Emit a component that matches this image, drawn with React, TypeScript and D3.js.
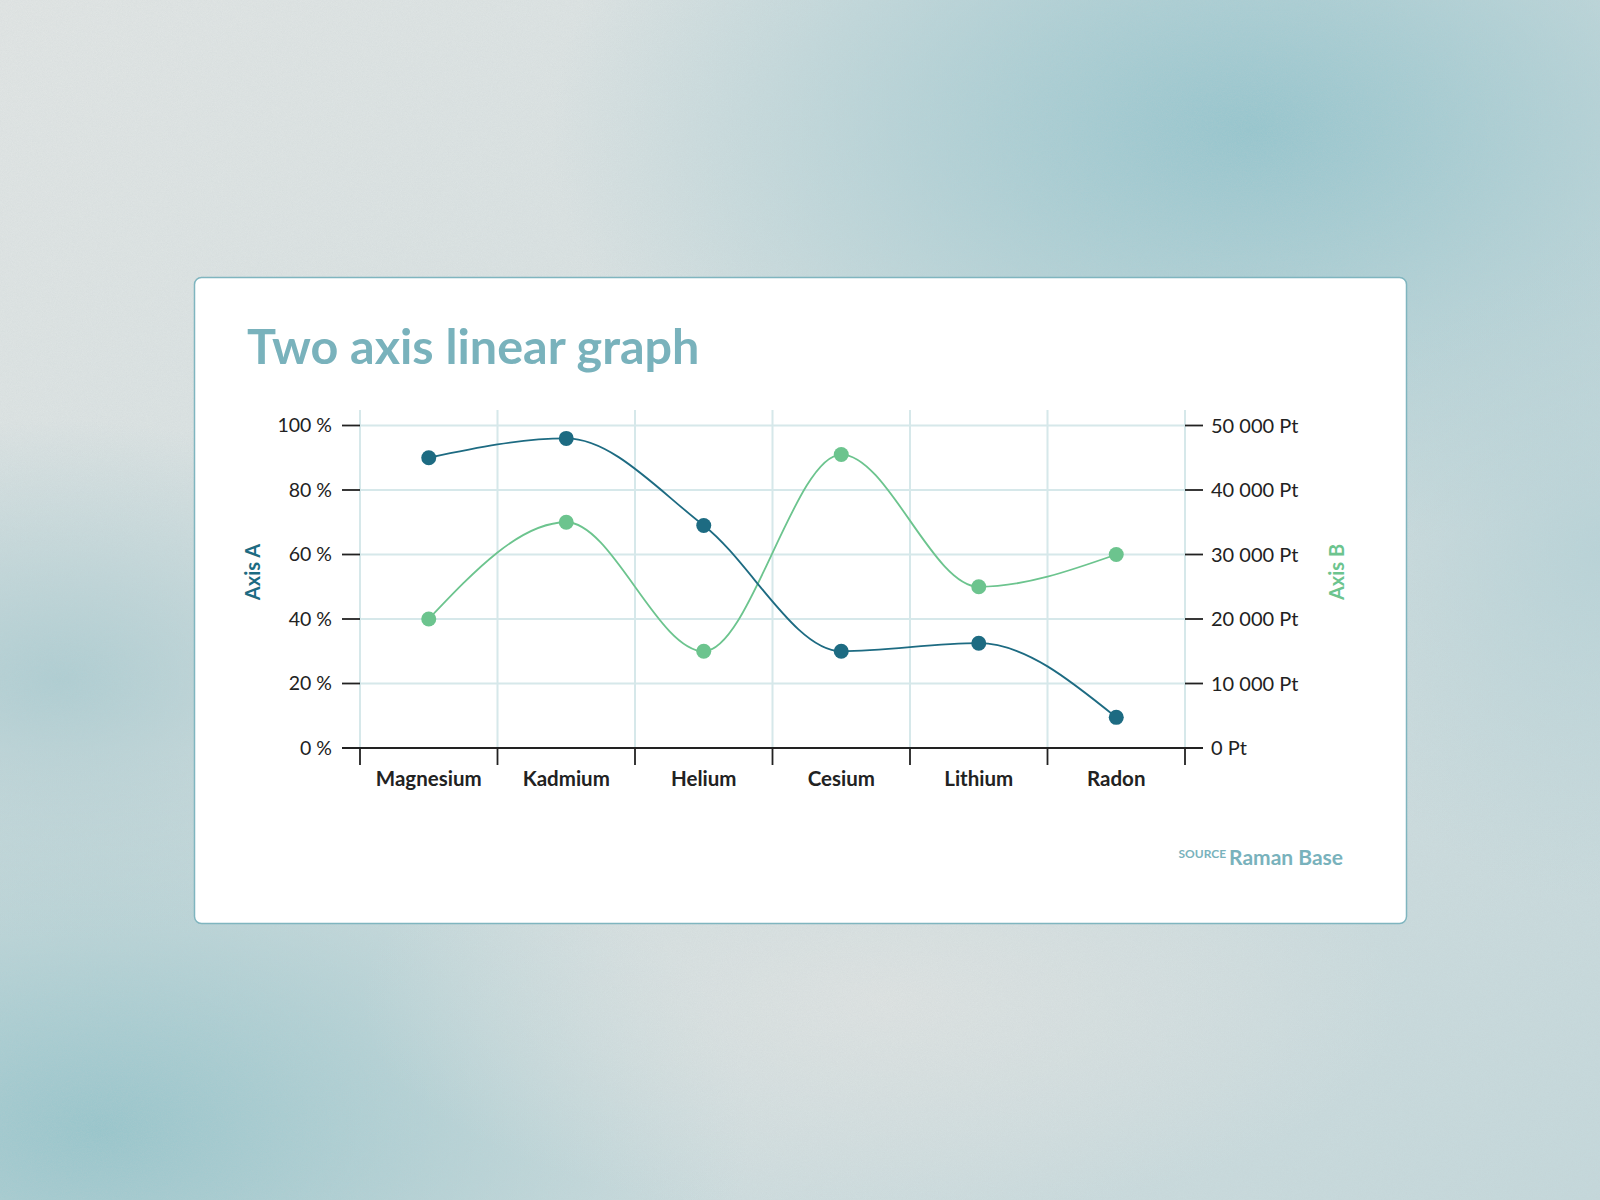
import React, { useEffect, useRef } from 'react';
import * as d3 from 'd3';

const categories = ['Magnesium', 'Kadmium', 'Helium', 'Cesium', 'Lithium', 'Radon'];
const seriesA = [90, 96, 69, 30, 32.5, 9.5]; // percent
const seriesB = [20000, 35000, 15000, 45500, 25000, 30000]; // Pt
const ticksA = [0, 20, 40, 60, 80, 100];
const ticksB = [0, 10000, 20000, 30000, 40000, 50000];

const colorA = '#1d6b82';
const colorB = '#6cc48e';
const accent = '#79b2bc';

const App: React.FC = () => {
  const svgRef = useRef<SVGSVGElement>(null);

  useEffect(() => {
    if (!svgRef.current) return;
    const width = 1600;
    const height = 1200;
    const svg = d3.select(svgRef.current);
    svg.selectAll('*').remove();

    const defs = svg.append('defs');

    // background gradients
    const base = defs.append('linearGradient').attr('id', 'bg-base')
      .attr('x1', '0%').attr('y1', '0%').attr('x2', '100%').attr('y2', '100%');
    base.append('stop').attr('offset', '0%').attr('stop-color', '#e1e5e4');
    base.append('stop').attr('offset', '55%').attr('stop-color', '#d3dfe0');
    base.append('stop').attr('offset', '100%').attr('stop-color', '#c4d8db');

    const blob = (id: string, color: string, op: number) => {
      const g = defs.append('radialGradient').attr('id', id);
      g.append('stop').attr('offset', '0%').attr('stop-color', color).attr('stop-opacity', op);
      g.append('stop').attr('offset', '100%').attr('stop-color', color).attr('stop-opacity', 0);
    };
    blob('blob-tr', '#95c5cd', 1);
    blob('blob-bl', '#97c5cb', 1);
    blob('blob-ml', '#a9cbd0', 0.9);
    blob('blob-r', '#b3d1d6', 0.8);
    blob('blob-c', '#dfe3e2', 0.9);

    const noise = defs.append('filter').attr('id', 'grain');
    noise.append('feTurbulence').attr('type', 'fractalNoise')
      .attr('baseFrequency', 1.2).attr('numOctaves', 2).attr('seed', 3);
    noise.append('feColorMatrix').attr('type', 'matrix')
      .attr('values', '0 0 0 0 0.55  0 0 0 0 0.6  0 0 0 0 0.62  0 0 0 -1.2 1');

    svg.append('rect').attr('width', width).attr('height', height).attr('fill', 'url(#bg-base)');
    svg.append('ellipse').attr('cx', 1250).attr('cy', 130).attr('rx', 700).attr('ry', 420).attr('fill', 'url(#blob-tr)');
    svg.append('ellipse').attr('cx', 1600).attr('cy', 550).attr('rx', 300).attr('ry', 350).attr('fill', 'url(#blob-r)');
    svg.append('ellipse').attr('cx', 100).attr('cy', 1130).attr('rx', 650).attr('ry', 380).attr('fill', 'url(#blob-bl)');
    svg.append('ellipse').attr('cx', 60).attr('cy', 680).attr('rx', 420).attr('ry', 260).attr('fill', 'url(#blob-ml)');
    svg.append('ellipse').attr('cx', 880).attr('cy', 1000).attr('rx', 520).attr('ry', 220).attr('fill', 'url(#blob-c)');
    svg.append('rect').attr('width', width).attr('height', height).attr('filter', 'url(#grain)').attr('opacity', 0.25);

    // card
    svg.append('rect')
      .attr('x', 194.5).attr('y', 277.5).attr('width', 1212).attr('height', 646)
      .attr('rx', 7).attr('fill', '#ffffff').attr('stroke', '#7fb5bf').attr('stroke-width', 1.5);

    svg.append('text')
      .attr('x', 247).attr('y', 364)
      .style('font-family', 'Lato, sans-serif').style('font-size', '48.5px').style('font-weight', 700)
      .style('fill', accent)
      .text('Two axis linear graph');

    // scales
    const left = 360;
    const right = 1185;
    const bottom = 748;
    const top = 425.5;
    const x = d3.scaleBand<string>().domain(categories).range([left, right]);
    const yA = d3.scaleLinear().domain([0, 100]).range([bottom, top]);
    const yB = d3.scaleLinear().domain([0, 50000]).range([bottom, top]);

    const fmt = d3.formatLocale({ decimal: '.', thousands: ' ', grouping: [3], currency: ['', ''] }).format(',');

    const chart = svg.append('g');
    const gridColor = '#d6e8ea';

    // horizontal gridlines
    chart.selectAll('line.hgrid').data(ticksA.filter(d => d > 0)).enter().append('line')
      .attr('x1', left).attr('x2', right)
      .attr('y1', d => yA(d)).attr('y2', d => yA(d))
      .attr('stroke', gridColor).attr('stroke-width', 2);

    // vertical gridlines at band boundaries
    const bounds = categories.map(c => x(c) as number).concat([right]);
    chart.selectAll('line.vgrid').data(bounds).enter().append('line')
      .attr('x1', d => d).attr('x2', d => d)
      .attr('y1', 410).attr('y2', bottom)
      .attr('stroke', gridColor).attr('stroke-width', 2);

    // bottom axis line + ticks
    chart.append('line').attr('x1', left - 18).attr('x2', right + 18)
      .attr('y1', bottom).attr('y2', bottom).attr('stroke', '#222').attr('stroke-width', 1.8);
    chart.selectAll('line.xtick').data(bounds).enter().append('line')
      .attr('x1', d => d).attr('x2', d => d).attr('y1', bottom).attr('y2', bottom + 17)
      .attr('stroke', '#222').attr('stroke-width', 1.8);

    // left ticks
    chart.selectAll('line.ytickA').data(ticksA).enter().append('line')
      .attr('x1', left - 18).attr('x2', left).attr('y1', d => yA(d)).attr('y2', d => yA(d))
      .attr('stroke', '#222').attr('stroke-width', 1.8);
    chart.selectAll('text.ylabA').data(ticksA).enter().append('text')
      .attr('x', 332).attr('y', d => yA(d)).attr('dy', '0.35em').attr('text-anchor', 'end')
      .style('font-family', 'Lato, sans-serif').style('font-size', '19.5px').style('fill', '#222')
      .text(d => `${d} %`);

    // right ticks
    chart.selectAll('line.ytickB').data(ticksB).enter().append('line')
      .attr('x1', right).attr('x2', right + 18).attr('y1', d => yB(d)).attr('y2', d => yB(d))
      .attr('stroke', '#222').attr('stroke-width', 1.8);
    chart.selectAll('text.ylabB').data(ticksB).enter().append('text')
      .attr('x', 1211).attr('y', d => yB(d)).attr('dy', '0.35em')
      .style('font-family', 'Lato, sans-serif').style('font-size', '20px').style('fill', '#222')
      .text(d => `${fmt(d)} Pt`);

    // category labels
    chart.selectAll('text.xlab').data(categories).enter().append('text')
      .attr('x', d => (x(d) as number) + x.bandwidth() / 2).attr('y', 786)
      .attr('text-anchor', 'middle')
      .style('font-family', 'Lato, sans-serif').style('font-size', '20.5px').style('font-weight', 700)
      .style('fill', '#222')
      .text(d => d);

    // axis titles
    chart.append('text')
      .attr('transform', `translate(260,572) rotate(-90)`).attr('text-anchor', 'middle')
      .style('font-family', 'Lato, sans-serif').style('font-size', '20px').style('font-weight', 700)
      .style('fill', colorA).text('Axis A');
    chart.append('text')
      .attr('transform', `translate(1344,572) rotate(-90)`).attr('text-anchor', 'middle')
      .style('font-family', 'Lato, sans-serif').style('font-size', '20px').style('font-weight', 700)
      .style('fill', colorB).text('Axis B');

    const cx = (c: string) => (x(c) as number) + x.bandwidth() / 2;

    const lineA = d3.line<number>().x((_, i) => cx(categories[i])).y(d => yA(d)).curve(d3.curveMonotoneX);
    const lineB = d3.line<number>().x((_, i) => cx(categories[i])).y(d => yB(d)).curve(d3.curveMonotoneX);

    chart.append('path').datum(seriesB).attr('d', lineB).attr('fill', 'none')
      .attr('stroke', colorB).attr('stroke-width', 1.8);
    chart.append('path').datum(seriesA).attr('d', lineA).attr('fill', 'none')
      .attr('stroke', colorA).attr('stroke-width', 1.8);

    chart.selectAll('circle.b').data(seriesB).enter().append('circle')
      .attr('cx', (_, i) => cx(categories[i])).attr('cy', d => yB(d)).attr('r', 7.5).attr('fill', colorB);
    chart.selectAll('circle.a').data(seriesA).enter().append('circle')
      .attr('cx', (_, i) => cx(categories[i])).attr('cy', d => yA(d)).attr('r', 7.5).attr('fill', colorA);

    // source
    const src = svg.append('text').attr('x', 1343).attr('y', 865).attr('text-anchor', 'end')
      .style('font-family', 'Lato, sans-serif').style('fill', accent).style('font-weight', 700);
    src.append('tspan').style('font-size', '12px').attr('dy', -7).text('SOURCE ');
    src.append('tspan').style('font-size', '21px').attr('dy', 7).text('Raman Base');
  }, []);

  return (
    <svg
      ref={svgRef}
      width={1600}
      height={1200}
      style={{ position: 'fixed', top: 0, left: 0, display: 'block' }}
    />
  );
};

export default App;
